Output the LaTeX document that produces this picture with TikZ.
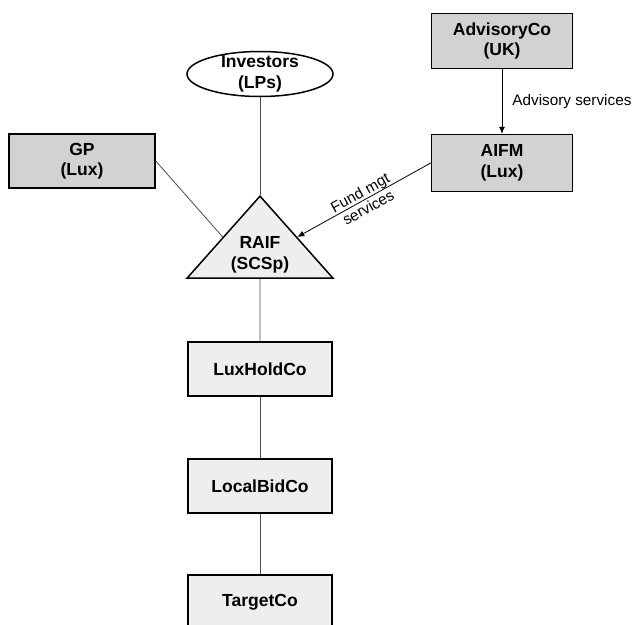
\documentclass[tikz,border=0pt]{standalone}
\usepackage{fontspec}
\setmainfont{Liberation Sans}
\usetikzlibrary{shapes.geometric,arrows.meta,calc}

\tikzstyle{entity}=[draw=black, line width=1.5pt, minimum width=144pt, minimum height=54pt, inner sep=0pt, align=center, font=\fontsize{17.5}{20.5}\selectfont\bfseries]
\tikzstyle{darkbox}=[entity, fill=gray!35]
\tikzstyle{lightbox}=[entity, fill=gray!13]
\tikzstyle{link}=[draw=black!70, line width=0.8pt]
\tikzstyle{flow}=[draw=black, line width=0.8pt, -{Latex[length=7pt,width=6pt]}]
\tikzstyle{note}=[font=\fontsize{15.3}{17}\selectfont, align=center, inner sep=0pt]

\begin{document}
\begin{tikzpicture}[x=1pt,y=-1pt]
\pgfmathsetmacro{\midX}{260}
\pgfmathsetmacro{\rightX}{502}
\useasboundingbox (0,0) rectangle (637,624);

% fund side
\node[entity, ellipse, fill=white, minimum width=146pt, minimum height=45pt, inner ysep=-2.5pt] (investors) at (\midX,74) {Investors\\(LPs)};
\node[lightbox, isosceles triangle, shape border rotate=90, isosceles triangle apex angle=83.3, minimum width=146pt, minimum height=0pt, anchor=apex] (raif) at (\midX,195) {RAIF\\(SCSp)};
\node[darkbox, minimum width=146pt] (gp) at (82,161) {GP\\(Lux)};
\node[darkbox, minimum width=141pt, minimum height=55pt] (advisory) at (\rightX,41) {AdvisoryCo\\(UK)};
\node[darkbox, minimum width=141pt, minimum height=57pt] (aifm) at (\rightX,163) {AIFM\\(Lux)};

% holding chain
\node[lightbox] (luxhold) at (\midX,369) {LuxHoldCo};
\node[lightbox] (localbid) at (\midX,486) {LocalBidCo};
\node[lightbox] (target) at (\midX,602) {TargetCo};

\coordinate (raifleft) at ($(raif.apex)!0.5!(raif.left corner)$);
\coordinate (raifright) at ($(raif.apex)!0.5!(raif.right corner)$);
\coordinate (raifbase) at ($(raif.left corner)!0.5!(raif.right corner)$);

\draw[link] (investors) -- (raif.apex);
\draw[link] (gp.east) -- (raifleft);
\draw[link] (raifbase) -- (luxhold);
\draw[link] (luxhold) -- (localbid);
\draw[link] (localbid) -- (target);
\draw[flow] (advisory) -- node[note, right=10pt] {Advisory services} (aifm);
\draw[flow] (aifm.west) -- node[note, sloped] {Fund mgt\\services} (raifright);
\end{tikzpicture}
\end{document}
